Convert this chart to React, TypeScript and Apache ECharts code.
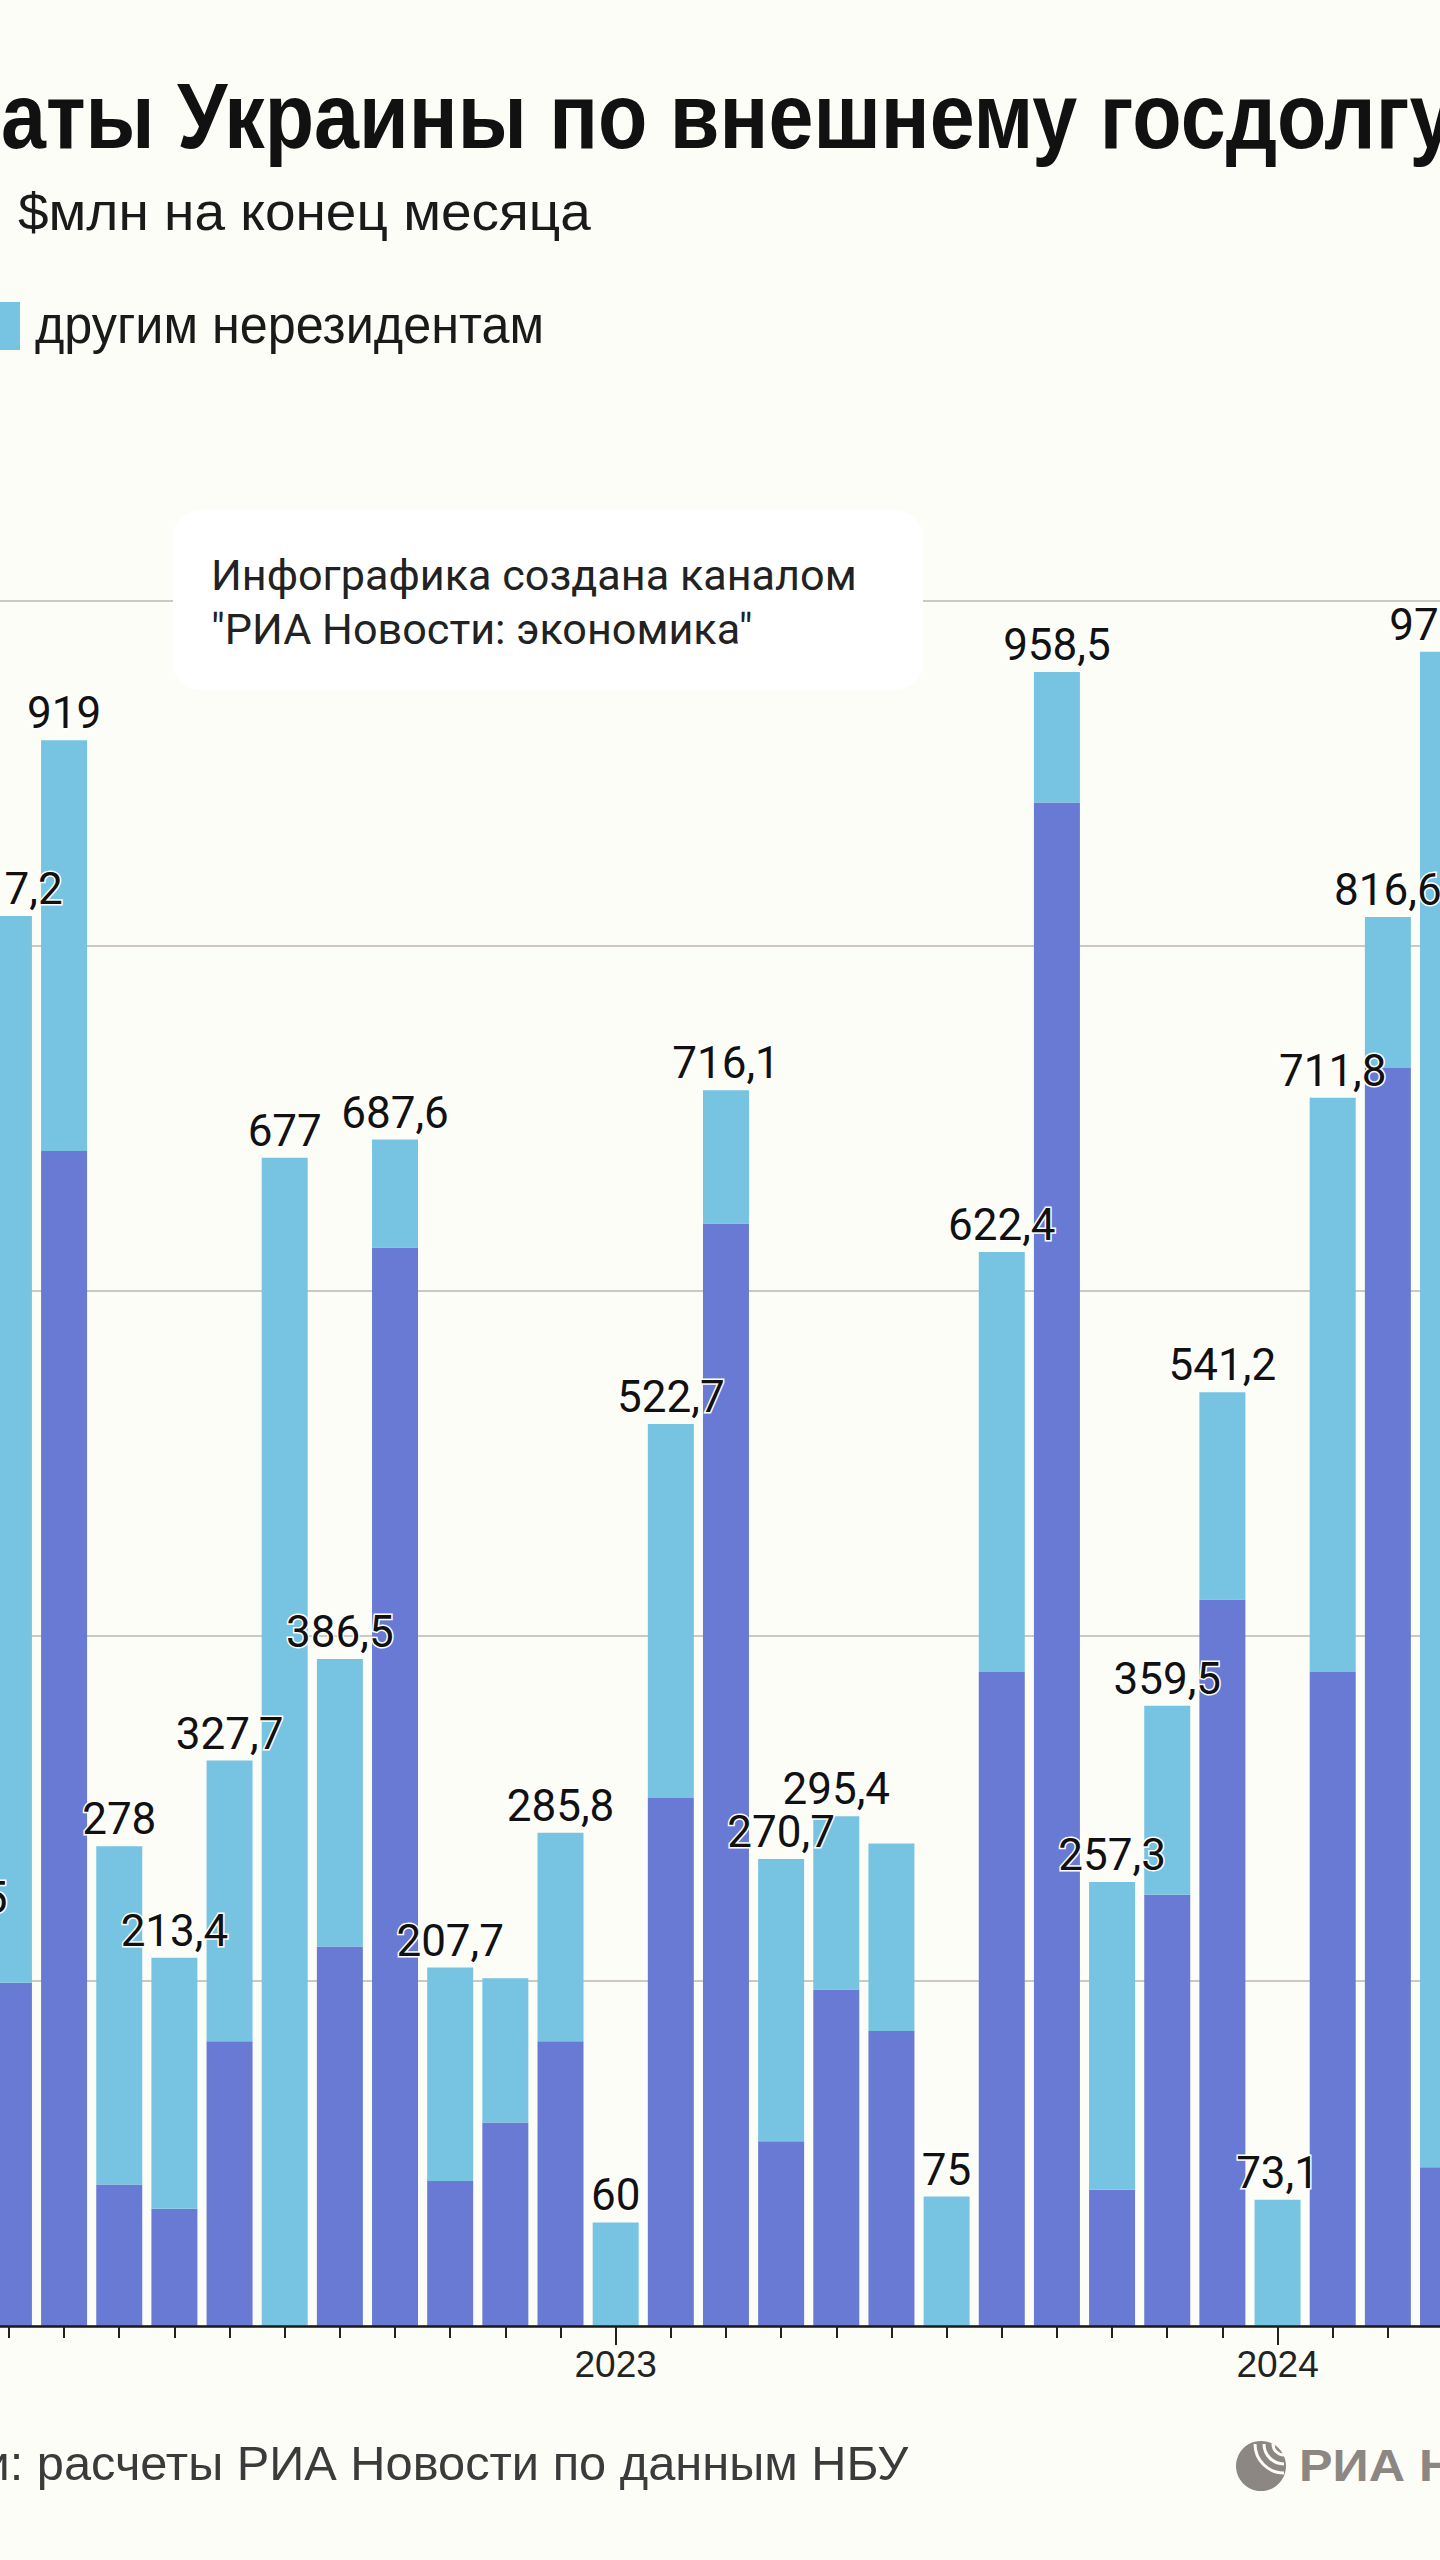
import React, { useEffect, useRef } from 'react';
import * as echarts from 'echarts';

// Months shown (Jan 2022 – Apr 2024)
const months = [
  '2022-01', '2022-02', '2022-03', '2022-04', '2022-05', '2022-06',
  '2022-07', '2022-08', '2022-09', '2022-10', '2022-11', '2022-12',
  '2023-01', '2023-02', '2023-03', '2023-04', '2023-05', '2023-06',
  '2023-07', '2023-08', '2023-09', '2023-10', '2023-11', '2023-12',
  '2024-01', '2024-02', '2024-03', '2024-04',
];

// Total payments, $ mln
const totals = [
  232.5, 817.2, 919, 278, 213.4, 327.7, 677, 386.5, 687.6, 207.7, 201.5, 285.8,
  60, 522.7, 716.1, 270.7, 295.4, 279.7, 75, 622.4, 958.5, 257.3, 359.5, 541.2,
  73.1, 711.8, 816.6, 970.3,
];

// Part paid to official creditors (dark segment), $ mln
const officialPart = [
  120, 199, 681, 82, 68, 165, 0, 220, 625, 84, 118, 165,
  0, 306, 639, 107, 195, 171, 0, 379, 883, 79, 250, 421,
  0, 379, 729, 92,
];

// Months whose total label is not shown in the original
const hiddenLabelMonths = ['2022-11', '2023-06'];

const yMin = 0;
const yMax = 1000;
const yStep = 200;

const seriesNames = ['официальным кредиторам', 'другим нерезидентам'];

const DARK = '#687AD4';
const LIGHT = '#76C3E2';
const BG = '#FDFDF8';

// The chart canvas is wider than the page and shifted left (the original is a crop)
const OX = 74;
const CHART_W = 1546;

const fmt = (v: number) => String(v).replace('.', ',');

export default function App() {
  const ref = useRef<HTMLDivElement>(null);

  useEffect(() => {
    document.body.style.margin = '0';
    const el = ref.current as HTMLDivElement;
    const chart = echarts.init(el, null, { renderer: 'svg' });

    const ctx = document.createElement('canvas').getContext('2d') as CanvasRenderingContext2D;
    const mw = (t: string, f: string) => {
      ctx.font = f;
      return ctx.measureText(t).width;
    };
    const PX = (x: number) => x + OX;

    const text = (
      t: string, x: number, baseline: number, font: string, size: number,
      color: string, sx: number, z = 50,
    ) => ({
      type: 'text',
      x: PX(x),
      y: baseline - 0.35 * size,
      scaleX: sx,
      z,
      silent: true,
      style: {
        text: t,
        font,
        fill: color,
        textAlign: 'left',
        textVerticalAlign: 'middle',
        align: 'left',
        verticalAlign: 'middle',
      },
    });

    // Title
    const titleFont = 'bold 92px "Liberation Sans"';
    const titleSx = 1409 / mw('аты Украины по внешнему госдолг', titleFont);
    const titleX = 1 - mw('Выпл', titleFont) * titleSx;

    // Subtitle
    const subFont = '52px "Liberation Sans"';
    const subSx = 573 / mw('$млн на конец месяца', subFont);

    // Legend
    const legFont = '52px "Liberation Sans"';
    const legSx = 509 / mw(seriesNames[1], legFont);

    // Watermark
    const wmFont = '42px Roboto';
    const wmSx = 646 / mw('Инфографика создана каналом', wmFont);

    // Source
    const srcFont = '48px "Liberation Sans"';
    const srcSx = 872 / mw('расчеты РИА Новости по данным НБУ', srcFont);
    const srcX = 37 - mw('Источники: ', srcFont) * srcSx;

    // Logo
    const logoFont = 'bold 44px "Liberation Sans"';
    const logoSx = 106 / mw('РИА', logoFont);

    const lightData = months.map((m, i) => {
      const v = Math.round((totals[i] - officialPart[i]) * 10) / 10;
      return hiddenLabelMonths.includes(m) ? { value: v, label: { show: false } } : { value: v };
    });

    const option: any = {
      animation: false,
      backgroundColor: BG,
      grid: {
        left: 0.2, right: 1.4, top: 600.5, bottom: 234,
        containLabel: false,
        outerBoundsMode: 'none',
      },
      xAxis: [
        {
          type: 'category',
          data: months,
          position: 'bottom',
          axisLine: { show: true, lineStyle: { color: '#1a1a1a', width: 2.5 } },
          axisTick: { show: true, alignWithLabel: true, interval: 0, length: 12, lineStyle: { color: '#222', width: 2 } },
          axisLabel: {
            interval: 0,
            margin: 20,
            hideOverlap: false,
            formatter: (v: string) => (v.endsWith('-01') ? v.slice(0, 4) : ''),
            fontFamily: '"Liberation Sans"',
            fontSize: 37,
            color: '#222',
          },
          splitLine: { show: false },
          z: 5,
        },
        {
          type: 'category',
          data: months,
          position: 'bottom',
          offset: 0,
          axisLine: { show: false },
          axisTick: {
            show: true,
            alignWithLabel: true,
            interval: (_i: number, v: string) => v.endsWith('-01'),
            length: 19,
            lineStyle: { color: '#222', width: 2 },
          },
          axisLabel: { show: false },
          splitLine: { show: false },
        },
      ],
      yAxis: {
        type: 'value',
        min: yMin,
        max: yMax,
        interval: yStep,
        axisLabel: { show: false },
        axisLine: { show: false },
        axisTick: { show: false },
        splitLine: { show: true, lineStyle: { color: '#BDB7AE', width: 1.5 } },
      },
      series: [
        {
          name: seriesNames[0],
          type: 'bar',
          stack: 'total',
          barWidth: 46,
          xAxisIndex: 0,
          itemStyle: { color: DARK },
          data: officialPart,
        },
        {
          name: seriesNames[1],
          type: 'bar',
          stack: 'total',
          barWidth: 46,
          xAxisIndex: 0,
          itemStyle: { color: LIGHT },
          data: lightData,
          label: {
            show: true,
            position: 'top',
            distance: 5,
            formatter: (p: any) => fmt(totals[p.dataIndex]),
            fontFamily: 'Roboto',
            fontSize: 44,
            color: '#111',
            textBorderColor: '#ffffff',
            textBorderWidth: 3,
          },
          labelLayout: { hideOverlap: false },
        },
      ],
      graphic: [
        text('Выплаты Украины по внешнему госдолгу', titleX, 148, titleFont, 92, '#111', titleSx),
        text('$млн на конец месяца', 18, 230, subFont, 52, '#1a1a1a', subSx),
        {
          type: 'rect',
          x: PX(-28),
          y: 302,
          z: 50,
          shape: { width: 48, height: 48 },
          style: { fill: LIGHT },
        },
        text(seriesNames[1], 35, 343, legFont, 52, '#1a1a1a', legSx),
        {
          type: 'rect',
          x: PX(173),
          y: 510,
          z: 40,
          shape: { width: 750, height: 180, r: 28 },
          style: { fill: '#FFFFFF' },
        },
        text('Инфографика создана каналом', 211, 590, wmFont, 42, '#222', wmSx, 45),
        text('"РИА Новости: экономика"', 211, 644, wmFont, 42, '#222', wmSx, 45),
        text('Источники: расчеты РИА Новости по данным НБУ', srcX, 2480, srcFont, 48, '#3b3b3b', srcSx),
        {
          type: 'circle',
          z: 50,
          shape: { cx: PX(1261), cy: 2466, r: 25 },
          style: { fill: '#8C8782' },
        },
        {
          type: 'arc',
          z: 51,
          shape: { cx: PX(1284), cy: 2444, r: 11, startAngle: Math.PI / 2, endAngle: Math.PI },
          style: { stroke: BG, lineWidth: 3, fill: 'none' },
        },
        {
          type: 'arc',
          z: 51,
          shape: { cx: PX(1284), cy: 2444, r: 20, startAngle: Math.PI / 2, endAngle: Math.PI },
          style: { stroke: BG, lineWidth: 3, fill: 'none' },
        },
        {
          type: 'arc',
          z: 51,
          shape: { cx: PX(1284), cy: 2444, r: 29, startAngle: Math.PI / 2, endAngle: Math.PI },
          style: { stroke: BG, lineWidth: 3, fill: 'none' },
        },
        text('РИА НОВОСТИ', 1299, 2481, logoFont, 44, '#8C8782', logoSx),
      ],
    };

    chart.setOption(option);
    return () => chart.dispose();
  }, []);

  return (
    <div
      style={{
        position: 'absolute', left: 0, top: 0, width: 1440, height: 2560,
        overflow: 'hidden', background: BG,
      }}
    >
      <div
        ref={ref}
        style={{ position: 'absolute', left: -OX, top: 0, width: CHART_W, height: 2560 }}
      />
    </div>
  );
}
